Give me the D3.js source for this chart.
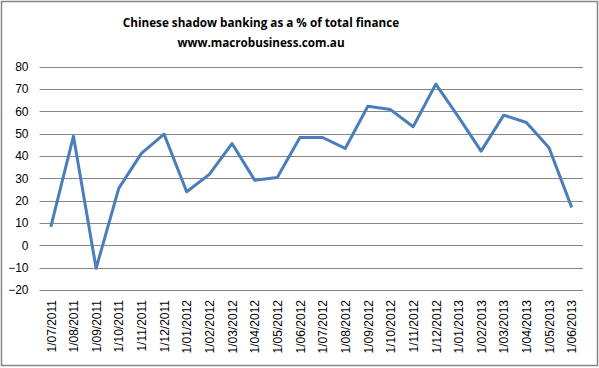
<!DOCTYPE html>
<html><head><meta charset="utf-8">
<script src="https://cdn.jsdelivr.net/npm/d3@7"></script>
<style>body{margin:0;background:#fff}svg{display:block}</style>
</head><body>
<script>
const categories = ["1/07/2011","1/08/2011","1/09/2011","1/10/2011","1/11/2011","1/12/2011","1/01/2012","1/02/2012","1/03/2012","1/04/2012","1/05/2012","1/06/2012","1/07/2012","1/08/2012","1/09/2012","1/10/2012","1/11/2012","1/12/2012","1/01/2013","1/02/2013","1/03/2013","1/04/2013","1/05/2013","1/06/2013"];
const values = [8.3,48.9,-10.3,25.5,41.2,49.8,24.0,31.8,45.6,29.2,30.4,48.3,48.3,43.4,62.3,60.8,53.1,72.2,57.5,42.2,58.3,55.0,43.7,17.0];
const yTicks = [-20,-10,0,10,20,30,40,50,60,70,80];
const titleLines = ["Chinese shadow banking as a % of total finance","www.macrobusiness.com.au"];

const W = 599, H = 368;
const svg = d3.select("body").append("svg").attr("width", W).attr("height", H);

svg.append("rect").attr("x",1.5).attr("y",1.5).attr("width",596).attr("height",364)
  .attr("fill","#fff").attr("stroke","#868686").attr("stroke-width",1.5);

const plot = {left: 39.5, right: 583, top: 66.7, bottom: 290};
const x = d3.scalePoint().domain(categories).range([plot.left, plot.right]).padding(0.5);
const y = d3.scaleLinear().domain([-20,80]).range([plot.bottom, plot.top]);

// gridlines
svg.append("g").selectAll("line").data(yTicks).join("line")
  .attr("x1", plot.left).attr("x2", plot.right)
  .attr("y1", d => Math.round(y(d))+0.5).attr("y2", d => Math.round(y(d))+0.5)
  .attr("stroke","#868686").attr("stroke-width",1);

// y axis labels
const yAxis = d3.axisLeft(y).tickValues(yTicks).tickSize(0).tickPadding(0);
const gy = svg.append("g").attr("transform", `translate(${plot.left-11},0)`).call(yAxis);
gy.select(".domain").remove();
gy.selectAll("text").attr("font-family","Liberation Sans, Arial, sans-serif").attr("font-size",12).attr("fill","#000");

// x axis labels
const xAxis = d3.axisBottom(x).tickSize(0).tickPadding(0);
const gx = svg.append("g").attr("transform", `translate(0,${plot.bottom})`).call(xAxis);
gx.select(".domain").remove();
gx.selectAll("text")
  .attr("font-family","Liberation Sans, Arial, sans-serif").attr("font-size",12).attr("fill","#000")
  .attr("text-anchor","end").attr("dy","0.35em")
  .attr("transform","translate(0,10) rotate(-90)").attr("x",0).attr("y",0);

// line
svg.append("path").datum(values)
  .attr("d", d3.line().x((d,i)=>x(categories[i])).y(d=>y(d)))
  .attr("fill","none").attr("stroke","#4a7ebb").attr("stroke-width",3).attr("stroke-linejoin","round");

// title
svg.append("g").selectAll("text").data(titleLines).join("text")
  .attr("x",261).attr("y",(d,i)=>27+i*20).attr("text-anchor","middle")
  .attr("font-family","Open Sans, sans-serif").attr("font-weight","bold").attr("font-size",11.7)
  .attr("fill","#000").text(d=>d);
</script>
</body></html>
